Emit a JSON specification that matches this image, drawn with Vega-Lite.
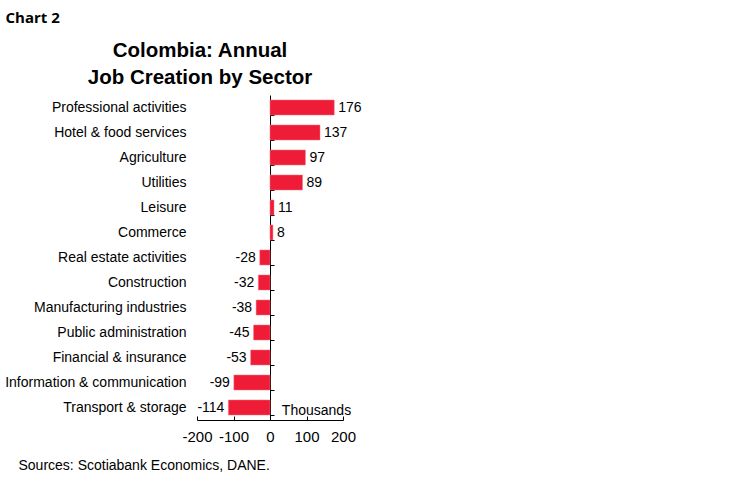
{
  "$schema": "https://vega.github.io/schema/vega-lite/v6.json",
  "width": 146,
  "height": 325,
  "autosize": {"type": "none"},
  "padding": {"left": 197, "top": 95, "right": 406, "bottom": 62},
  "background": "white",
  "config": {
    "view": {"stroke": null},
    "locale": {"number": {"decimal": ".", "thousands": ",", "grouping": [3], "currency": ["$", ""], "minus": "-"}}
  },
  "title": {
    "text": ["Colombia: Annual", "Job Creation by Sector"],
    "font": "Liberation Sans",
    "fontSize": 20.5,
    "fontWeight": "bold",
    "color": "black",
    "anchor": "middle",
    "frame": "group",
    "dx": -70,
    "dy": 86,
    "offset": 8,
    "lineHeight": 27
  },
  "data": {
    "values": [
      {"sector": "Professional activities", "value": 176},
      {"sector": "Hotel & food services", "value": 137},
      {"sector": "Agriculture", "value": 97},
      {"sector": "Utilities", "value": 89},
      {"sector": "Leisure", "value": 11},
      {"sector": "Commerce", "value": 8},
      {"sector": "Real estate activities", "value": -28},
      {"sector": "Construction", "value": -32},
      {"sector": "Manufacturing industries", "value": -38},
      {"sector": "Public administration", "value": -45},
      {"sector": "Financial & insurance ", "value": -53},
      {"sector": "Information & communication", "value": -99},
      {"sector": "Transport & storage", "value": -114}
    ]
  },
  "encoding": {
    "x": {
      "field": "value",
      "type": "quantitative",
      "scale": {"domain": [-200, 200], "nice": false},
      "axis": {
        "values": [-200, -100, 0, 100, 200],
        "grid": false,
        "domainColor": "black",
        "tickColor": "black",
        "tickSize": -4,
        "labelPadding": 13,
        "labelFont": "Liberation Sans",
        "labelFontSize": 15,
        "labelColor": "black",
        "labelFlush": false,
        "title": "Thousands",
        "titleFont": "Liberation Sans",
        "titleFontSize": 14,
        "titleFontWeight": "normal",
        "titleColor": "black",
        "titleX": 119,
        "titleY": -10,
        "titleAlign": "center",
        "titleBaseline": "middle"
      }
    }
  },
  "resolve": {"axis": {"y": "independent"}},
  "layer": [
    {
      "mark": {"type": "bar", "color": "#EE1C36", "stroke": "#F5707F", "strokeWidth": 0.5},
      "encoding": {
        "y": {
          "field": "sector",
          "type": "nominal",
          "sort": null,
          "scale": {"paddingInner": 0.4, "paddingOuter": 0.2},
          "axis": {
            "domain": false,
            "ticks": false,
            "labelPadding": 11,
            "labelLimit": 300,
            "labelFont": "Liberation Sans",
            "labelFontSize": 14,
            "labelColor": "black",
            "title": "Chart 2",
            "titleAngle": 0,
            "titleFont": "Open Sans",
            "titleFontSize": 15,
            "titleFontWeight": "bold",
            "titleColor": "black",
            "titleX": -192,
            "titleY": -78,
            "titleAlign": "left",
            "titleBaseline": "middle"
          }
        }
      }
    },
    {
      "mark": {
        "type": "text",
        "font": "Liberation Sans",
        "fontSize": 14,
        "color": "black",
        "align": {"expr": "datum.value < 0 ? 'right' : 'left'"},
        "dx": {"expr": "datum.value < 0 ? -4 : 4"},
        "baseline": "middle"
      },
      "encoding": {
        "y": {
          "field": "sector",
          "type": "nominal",
          "sort": null,
          "axis": {
            "orient": "left",
            "offset": -73,
            "labels": false,
            "domainColor": "black",
            "tickColor": "black",
            "tickSize": -4,
            "tickBand": "extent",
            "title": "Sources: Scotiabank Economics, DANE.",
            "titleAngle": 0,
            "titleFont": "Liberation Sans",
            "titleFontSize": 14,
            "titleFontWeight": "normal",
            "titleColor": "black",
            "titleX": -252,
            "titleY": 370,
            "titleAlign": "left",
            "titleBaseline": "middle"
          }
        },
        "text": {"field": "value", "type": "quantitative"}
      }
    }
  ]
}
